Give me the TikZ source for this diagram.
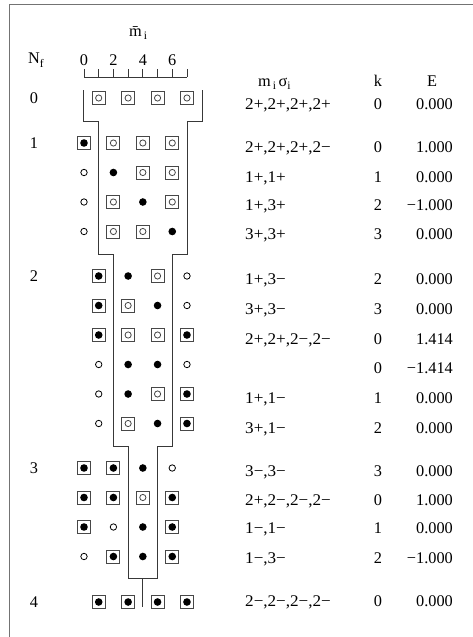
\documentclass[tikz,border=0pt]{standalone}
\usepackage{fontspec}
\setmainfont{Liberation Serif}
\definecolor{sqc}{gray}{0.28}
\definecolor{linec}{gray}{0.22}
\definecolor{framec}{gray}{0.45}
\begin{document}
\begin{tikzpicture}[x=1pt,y=-1pt,
  fnt/.style={font=\fontsize{16.3}{18}\selectfont, inner sep=0pt},
  bo/.style={rectangle, draw=sqc, line width=0.9pt, minimum size=13pt, inner sep=0pt,
    path picture={\draw[line width=0.8pt] (path picture bounding box.center) circle (3.1pt);}},
  bf/.style={rectangle, draw=sqc, line width=0.9pt, minimum size=13pt, inner sep=0pt,
    path picture={\fill (path picture bounding box.center) circle (3.8pt);}},
  oc/.style={circle, draw, line width=0.8pt, minimum size=6.4pt, inner sep=0pt},
  fd/.style={circle, fill, minimum size=7.6pt, inner sep=0pt},
  funnel/.style={draw=linec, line width=0.9pt},
  frameline/.style={draw=framec, line width=0.9pt}]
\useasboundingbox (0,0) rectangle (473,637);
% frame
\draw[frameline] (473,4) -- (9,4) -- (9,637);
% headers
\node[fnt, anchor=base west] (nfh) at (28,63) {N\raisebox{-4.5pt}{\fontsize{11.5}{12}\selectfont f}};
\node[fnt, anchor=base west] (mbh) at (129,36) {\=m\raisebox{-3pt}{\fontsize{11.5}{12}\selectfont\,i}};
\node[fnt, anchor=base west] (msh) at (258,86) {m\raisebox{-3pt}{\fontsize{11.5}{12}\selectfont\,i}\,σ\raisebox{-3pt}{\fontsize{11.5}{12}\selectfont i}};
\node[fnt, anchor=base] (kh) at (378,86) {k};
\node[fnt, anchor=base] (eh) at (432,86) {E};
% axis
\foreach \v in {0,2,4,6} \node[fnt, anchor=base] (tl\v) at ({84+14.71*\v},65) {\v};
\draw[linec, line width=0.9pt] (84,77) -- (187,77);
\foreach \v in {0,...,7} \draw[linec, line width=0.9pt] ({84+14.71*\v},77) -- ({84+14.71*\v},69);
% Nf labels
\node[fnt, anchor=base] (nf0) at (34,103.5) {0};
\node[fnt, anchor=base] (nf1) at (34,148.5) {1};
\node[fnt, anchor=base] (nf2) at (34,281.5) {2};
\node[fnt, anchor=base] (nf3) at (34,473.5) {3};
\node[fnt, anchor=base] (nf4) at (34,607.5) {4};
% funnel
\draw[funnel] (83.5,90) -- (83.5,121.5) -- (98.7,121.5) -- (98.7,254) -- (113.4,254) -- (113.4,446)
  -- (128.1,446) -- (128.1,578) -- (157.6,578) -- (157.6,446) -- (172.3,446) -- (172.3,254)
  -- (187,254) -- (187,121.5) -- (202.1,121.5) -- (202.1,90);
\draw[funnel] (142.8,578) -- (142.8,607);
% markers: odd columns (m=1,3,5,7)
\foreach \t [count=\j] in {bo,bo,bo,bo} \node[\t] (ra\j) at ({84+14.71*(2*\j-1)},98) {};
% Nf=1 (m=0,2,4,6)
\foreach \t [count=\j] in {bf,bo,bo,bo} \node[\t] (rb\j) at ({84+14.71*(2*\j-2)},143) {};
\foreach \t [count=\j] in {oc,fd,bo,bo} \node[\t] (rc\j) at ({84+14.71*(2*\j-2)},172.5) {};
\foreach \t [count=\j] in {oc,bo,fd,bo} \node[\t] (rd\j) at ({84+14.71*(2*\j-2)},202) {};
\foreach \t [count=\j] in {oc,bo,bo,fd} \node[\t] (re\j) at ({84+14.71*(2*\j-2)},231.5) {};
% Nf=2
\foreach \t [count=\j] in {bf,fd,bo,oc} \node[\t] (rf\j) at ({84+14.71*(2*\j-1)},276) {};
\foreach \t [count=\j] in {bf,bo,fd,oc} \node[\t] (rg\j) at ({84+14.71*(2*\j-1)},305.5) {};
\foreach \t [count=\j] in {bf,bo,bo,bf} \node[\t] (rh\j) at ({84+14.71*(2*\j-1)},335) {};
\foreach \t [count=\j] in {oc,fd,fd,oc} \node[\t] (ri\j) at ({84+14.71*(2*\j-1)},364.5) {};
\foreach \t [count=\j] in {oc,fd,bo,bf} \node[\t] (rj\j) at ({84+14.71*(2*\j-1)},394) {};
\foreach \t [count=\j] in {oc,bo,fd,bf} \node[\t] (rk\j) at ({84+14.71*(2*\j-1)},423.5) {};
% Nf=3
\foreach \t [count=\j] in {bf,bf,fd,oc} \node[\t] (rl\j) at ({84+14.71*(2*\j-2)},468) {};
\foreach \t [count=\j] in {bf,bf,bo,bf} \node[\t] (rm\j) at ({84+14.71*(2*\j-2)},497.5) {};
\foreach \t [count=\j] in {bf,oc,fd,bf} \node[\t] (rn\j) at ({84+14.71*(2*\j-2)},527) {};
\foreach \t [count=\j] in {oc,bf,fd,bf} \node[\t] (ro\j) at ({84+14.71*(2*\j-2)},556.5) {};
% Nf=4
\foreach \t [count=\j] in {bf,bf,bf,bf} \node[\t] (rp\j) at ({84+14.71*(2*\j-1)},602) {};
% table
\foreach \b/\s/\k/\e [count=\n] in {
  109.5/{2+,2+,2+,2+}/0/0.000,
  152.5/{2+,2+,2+,2−}/0/1.000,
  182.2/{1+,1+}/1/0.000,
  210.5/{1+,3+}/2/−1.000,
  239.5/{3+,3+}/3/0.000,
  284.5/{1+,3−}/2/0.000,
  314/{3+,3−}/3/0.000,
  344.5/{2+,2+,2−,2−}/0/1.414,
  373.5/{}/0/−1.414,
  403.5/{1+,1−}/1/0.000,
  433/{3+,1−}/2/0.000,
  476/{3−,3−}/3/0.000,
  505/{2+,2−,2−,2−}/0/1.000,
  533.5/{1−,1−}/1/0.000,
  563/{1−,3−}/2/−1.000,
  606.5/{2−,2−,2−,2−}/0/0.000} {
  \node[fnt, anchor=base west] (ms\n) at (245,\b) {\scalebox{1.05}[1]{\s}};
  \node[fnt, anchor=base] (kv\n) at (378,\b) {\k};
  \node[fnt, anchor=base east] (ev\n) at (453,\b) {\e};
}
\end{tikzpicture}
\end{document}
